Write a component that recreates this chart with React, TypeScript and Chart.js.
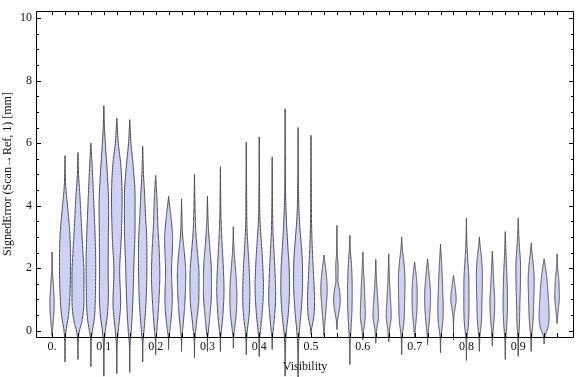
import React, { useEffect, useRef } from "react";
import { Chart, registerables } from "chart.js";

Chart.register(...registerables);

// ---- data ----
const VISIBILITY = [
  0, 0.025, 0.05, 0.075, 0.1, 0.125, 0.15, 0.175, 0.2, 0.225,
  0.25, 0.275, 0.3, 0.325, 0.35, 0.375, 0.4, 0.425, 0.45, 0.475,
  0.5, 0.525, 0.55, 0.575, 0.6, 0.625, 0.65, 0.675, 0.7, 0.725,
  0.75, 0.775, 0.8, 0.825, 0.85, 0.875, 0.9, 0.925, 0.95, 0.975,
];

const ERR_MIN = [
  -0.15, -1.0, -0.92, -1.15, -1.45, -1.37, -1.33, -1.0, -0.77, -0.6,
  -0.66, -0.86, -0.66, -0.66, -0.56, -0.77, -0.82, -0.6, -1.45, -1.5,
  -0.1, -0.15, 0.04, -1.08, -0.3, -0.4, -0.35, -0.77, -0.2, -0.45,
  -0.7, -0.3, -0.95, -0.66, -0.48, -0.92, -0.82, -0.66, -0.42, 0.23,
];

const ERR_MAX = [
  2.52, 5.6, 5.7, 6.0, 7.2, 6.8, 6.75, 5.9, 4.97, 4.3,
  4.22, 5.0, 4.3, 5.25, 3.33, 6.03, 6.2, 5.56, 7.1, 6.5,
  6.25, 2.42, 3.37, 3.05, 2.52, 2.28, 2.46, 3.0, 2.2, 2.3,
  2.77, 1.77, 3.6, 3.0, 2.55, 3.17, 3.6, 2.8, 2.3, 2.46,
];

// density knots per violin: [error value, relative density]
const DENSITY_KNOTS: number[][][] = [
  [[0.2, 1], [0.9, 2.2], [1.4, 1.4], [1.9, 0.4]],
  [[-0.3, 0.3], [0, 1], [0.5, 3.5], [1.2, 5], [2.2, 5.5], [3, 5], [4, 2.5], [4.5, 1], [5, 0.3]],
  [[-0.3, 0.3], [0, 1.5], [0.3, 4], [1.0, 6], [1.8, 6], [2.5, 5], [3.2, 3.8], [4.3, 2], [5.0, 0.6]],
  [[-0.3, 0.3], [0, 1.5], [0.4, 3.5], [1.2, 4.5], [2.2, 4.8], [3.2, 4], [4.3, 2.6], [5.3, 1.2]],
  [[-0.5, 0.3], [0, 1.5], [0.5, 3.5], [1.2, 4.5], [2, 4.3], [3, 4.5], [4, 4.8], [5, 3.5], [6, 1.5], [6.6, 0.5]],
  [[-0.5, 0.3], [0, 1.5], [0.9, 3.8], [1.9, 2.9], [3, 4.5], [4.2, 5.3], [5.3, 4], [6.0, 1.5]],
  [[-0.5, 0.3], [0, 1.5], [0.9, 3], [2.2, 4.2], [3.3, 5.3], [4.3, 5.3], [5.3, 3.3], [6.0, 1.2]],
  [[-0.4, 0.3], [0, 1.3], [0.9, 3.3], [2.2, 4.2], [3.0, 4], [3.7, 2.8], [4.3, 2], [5.0, 0.8]],
  [[-0.3, 0.3], [0, 1.2], [1.0, 3.3], [1.8, 4.2], [2.6, 3.5], [3.3, 2.3], [4.3, 1.2]],
  [[-0.2, 0.3], [0, 1.2], [1.0, 3.7], [1.9, 3], [2.9, 4], [3.6, 2.5], [4.0, 1]],
  [[-0.2, 0.3], [0, 1], [0.4, 2.2], [1.0, 3.5], [1.8, 4.2], [2.5, 2.8], [3.0, 1.2], [3.5, 0.5]],
  [[-0.3, 0.3], [0, 1.2], [0.4, 2.5], [1.0, 4.3], [1.8, 4.5], [2.6, 2.7], [3.2, 1.3], [4.0, 0.5]],
  [[-0.2, 0.3], [0, 1], [0.5, 2.5], [1.2, 4], [2.0, 3.8], [2.8, 2], [3.4, 0.8]],
  [[-0.2, 0.3], [0, 1], [0.5, 2.5], [1.3, 3.6], [2.0, 3], [2.7, 1.8], [3.5, 0.7], [4.3, 0.3]],
  [[-0.2, 0.3], [0, 1], [0.5, 2.8], [1.1, 3.5], [1.7, 2.8], [2.3, 1.3], [2.8, 0.4]],
  [[-0.3, 0.3], [0, 1], [0.5, 2.8], [1.2, 3.6], [1.9, 3], [2.6, 1.8], [3.3, 0.7], [4.5, 0.3]],
  [[-0.3, 0.3], [0, 1.2], [0.6, 3], [1.4, 4.2], [2.1, 3.5], [2.9, 2], [3.6, 0.7], [4.5, 0.3]],
  [[-0.2, 0.3], [0, 1], [0.5, 2.5], [1.1, 3.5], [1.7, 3], [2.4, 2], [3.2, 0.8], [4.2, 0.3]],
  [[-0.5, 0.3], [0, 1.3], [0.5, 3], [1.3, 4.3], [2.0, 4], [2.8, 2.5], [3.6, 1.2], [4.5, 0.4], [5.5, 0.2]],
  [[-0.6, 0.3], [0, 1.3], [0.6, 3], [1.5, 4.5], [2.2, 4.3], [2.9, 2.8], [3.6, 1.2], [4.5, 0.4]],
  [[0.1, 0.8], [0.5, 3], [1.0, 3.5], [1.8, 2.5], [2.6, 1.3], [3.5, 0.5], [4.5, 0.3]],
  [[0.2, 0.8], [0.8, 2.3], [1.35, 3.2], [1.9, 2]],
  [[0.3, 0.5], [0.7, 2.5], [0.95, 3.3], [1.3, 2.5], [1.6, 1], [2.0, 1.2], [2.5, 0.4]],
  [[-0.4, 0.3], [0, 1], [0.6, 2], [1.3, 2.3], [2.0, 1.8], [2.5, 0.7]],
  [[0, 0.8], [0.5, 2.5], [1.0, 2], [1.6, 1.3], [2.0, 0.6]],
  [[0, 0.8], [0.5, 2.8], [1.0, 2], [1.6, 0.8]],
  [[0, 0.8], [0.5, 2.5], [1.0, 1.8], [1.6, 0.8]],
  [[-0.2, 0.5], [0.3, 2.3], [1.0, 3], [1.6, 3.3], [2.2, 2.2], [2.6, 0.8]],
  [[0.1, 0.8], [0.6, 2.2], [1.2, 2.6], [1.7, 1.8]],
  [[-0.1, 0.5], [0.4, 2], [1.1, 3], [1.7, 1.8]],
  [[-0.2, 0.5], [0.3, 2.3], [0.7, 2.7], [1.3, 2.2], [2.0, 1.3]],
  [[0.4, 0.3], [0.7, 1.5], [1.0, 2.7], [1.3, 2]],
  [[-0.3, 0.4], [0.2, 2], [0.8, 2.6], [1.6, 2.5], [2.3, 1.3], [2.9, 0.4]],
  [[-0.2, 0.5], [0.3, 2], [1.0, 2.6], [1.7, 3], [2.3, 2.2], [2.7, 0.8]],
  [[0, 0.8], [0.5, 2], [0.9, 2.4], [1.5, 1.5], [2.0, 0.8]],
  [[-0.3, 0.4], [0.2, 1.5], [0.8, 2.2], [1.6, 1.8], [2.4, 0.8]],
  [[-0.3, 0.3], [0.2, 1.2], [0.8, 1.6], [1.5, 2.2], [2.1, 2.3], [2.7, 1.2], [3.2, 0.4]],
  [[-0.2, 0.5], [0.3, 1.8], [1.0, 2.6], [1.6, 3], [2.1, 2.2], [2.5, 0.8]],
  [[-0.15, 1], [0.1, 3.8], [0.5, 5], [1.0, 4.3], [1.6, 3], [2.0, 1.5]],
  [[0.6, 1], [1.1, 2.3], [1.6, 1.8], [2.0, 0.6]],
];

const X_TICKS = [0, 0.1, 0.2, 0.3, 0.4, 0.5, 0.6, 0.7, 0.8, 0.9];
const X_TICK_LABELS = ["0.", "0.1", "0.2", "0.3", "0.4", "0.5", "0.6", "0.7", "0.8", "0.9"];
const Y_TICKS = [0, 2, 4, 6, 8, 10];
const Y_TICK_LABELS = ["0", "2", "4", "6", "8", "10"];
const Y_MINOR_TICKS = [0.5, 1, 1.5, 2.5, 3, 3.5, 4.5, 5, 5.5, 6.5, 7, 7.5, 8.5, 9, 9.5];

const X_MIN = -0.031;
const X_MAX = 1.0077;
const Y_MIN = -0.2;
const Y_MAX = 10.22;
const DENSITY_UNIT = 0.00193; // x-units per density unit

const FONT = "'Liberation Serif', 'Times New Roman', serif";

function monotone(xs: number[], ys: number[]) {
  const n = xs.length;
  const d: number[] = [];
  const m: number[] = [];
  for (let i = 0; i < n - 1; i++) d[i] = (ys[i + 1] - ys[i]) / (xs[i + 1] - xs[i]);
  m[0] = d[0];
  m[n - 1] = d[n - 2];
  for (let i = 1; i < n - 1; i++) m[i] = d[i - 1] * d[i] <= 0 ? 0 : (d[i - 1] + d[i]) / 2;
  for (let i = 0; i < n - 1; i++) {
    if (d[i] === 0) { m[i] = 0; m[i + 1] = 0; continue; }
    const a = m[i] / d[i], b = m[i + 1] / d[i];
    const s = a * a + b * b;
    if (s > 9) { const t = 3 / Math.sqrt(s); m[i] = t * a * d[i]; m[i + 1] = t * b * d[i]; }
  }
  return (x: number) => {
    let i = 0;
    while (i < n - 2 && x > xs[i + 1]) i++;
    const h = xs[i + 1] - xs[i];
    const t = Math.min(1, Math.max(0, (x - xs[i]) / h));
    const t2 = t * t, t3 = t2 * t;
    const v = (2 * t3 - 3 * t2 + 1) * ys[i] + (t3 - 2 * t2 + t) * h * m[i] +
      (-2 * t3 + 3 * t2) * ys[i + 1] + (t3 - t2) * h * m[i + 1];
    return Math.max(0, v);
  };
}

const violinPlugin = {
  id: "violins",
  afterDatasetsDraw(chart: any) {
    const { ctx, scales } = chart;
    const xs = scales.x, ys = scales.y;
    ctx.save();
    VISIBILITY.forEach((c, i) => {
      const lo = ERR_MIN[i], hi = ERR_MAX[i];
      const kx = [lo, ...DENSITY_KNOTS[i].map((k) => k[0]), hi];
      const kv = [0, ...DENSITY_KNOTS[i].map((k) => k[1]), 0];
      const f = monotone(kx, kv);
      const N = 160;
      const pts: [number, number][] = [];
      for (let j = 0; j <= N; j++) {
        const y = lo + ((hi - lo) * j) / N;
        pts.push([y, f(y)]);
      }
      ctx.beginPath();
      pts.forEach(([y, w], j) => {
        const px = xs.getPixelForValue(c + w * DENSITY_UNIT);
        const py = ys.getPixelForValue(y);
        if (j === 0) ctx.moveTo(px, py); else ctx.lineTo(px, py);
      });
      for (let j = pts.length - 1; j >= 0; j--) {
        const [y, w] = pts[j];
        ctx.lineTo(xs.getPixelForValue(c - w * DENSITY_UNIT), ys.getPixelForValue(y));
      }
      ctx.closePath();
      ctx.fillStyle = "rgb(204,210,245)";
      ctx.fill();
      ctx.lineWidth = 1;
      ctx.strokeStyle = "rgb(72,72,82)";
      ctx.lineJoin = "round";
      ctx.stroke();
    });
    ctx.restore();
  },
  afterDraw(chart: any) {
    const { ctx, chartArea, scales } = chart;
    const { left, right, top, bottom } = chartArea;
    const xs = scales.x, ys = scales.y;
    ctx.save();
    ctx.strokeStyle = "#000";
    ctx.lineWidth = 1;
    ctx.beginPath();
    ctx.rect(Math.round(left) + 0.5, Math.round(top) + 0.5, Math.round(right - left) - 1, Math.round(bottom - top));
    ctx.stroke();
    ctx.beginPath();
    VISIBILITY.forEach((v) => {
      const x = Math.round(xs.getPixelForValue(v)) + 0.5;
      ctx.moveTo(x, bottom); ctx.lineTo(x, bottom - 4);
      ctx.moveTo(x, top); ctx.lineTo(x, top + 4);
    });
    Y_TICKS.forEach((v) => {
      const y = Math.round(ys.getPixelForValue(v)) + 0.5;
      ctx.moveTo(left, y); ctx.lineTo(left + 5, y);
      ctx.moveTo(right, y); ctx.lineTo(right - 5, y);
    });
    Y_MINOR_TICKS.forEach((v) => {
      const y = Math.round(ys.getPixelForValue(v)) + 0.5;
      ctx.moveTo(left, y); ctx.lineTo(left + 3, y);
      ctx.moveTo(right, y); ctx.lineTo(right - 3, y);
    });
    ctx.stroke();
    ctx.restore();
  },
};

export default function App() {
  const ref = useRef<HTMLCanvasElement | null>(null);
  useEffect(() => {
    if (!ref.current) return;
    const chart = new Chart(ref.current, {
      type: "scatter",
      data: { datasets: [{ data: [], pointRadius: 0 }] },
      options: {
        animation: false,
        responsive: false,
        devicePixelRatio: 1,
        layout: { padding: { top: 4, right: 2, left: 0, bottom: 0 } },
        plugins: { legend: { display: false }, tooltip: { enabled: false } },
        scales: {
          x: {
            type: "linear",
            min: X_MIN,
            max: X_MAX,
            afterFit: (s: any) => { s.height = 40; },
            afterBuildTicks: (s: any) => { s.ticks = X_TICKS.map((v) => ({ value: v })); },
            ticks: {
              callback: (_v: any, i: number) => X_TICK_LABELS[i],
              color: "#111",
              font: { family: FONT, size: 12 },
              padding: 3,
              autoSkip: false,
              maxRotation: 0,
            },
            grid: { display: false, drawTicks: false },
            border: { display: false },
            title: {
              display: true,
              text: "Visibility",
              color: "#111",
              font: { family: FONT, size: 12 },
              padding: { top: 0, bottom: 3 },
            },
          },
          y: {
            type: "linear",
            min: Y_MIN,
            max: Y_MAX,
            afterFit: (s: any) => { s.width = 36; },
            afterBuildTicks: (s: any) => { s.ticks = Y_TICKS.map((v) => ({ value: v })); },
            ticks: {
              callback: (_v: any, i: number) => Y_TICK_LABELS[i],
              color: "#111",
              font: { family: FONT, size: 12 },
              padding: 4,
            },
            grid: { display: false, drawTicks: false },
            border: { display: false },
            title: {
              display: true,
              text: "SignedError (Scan\u2192Ref, 1) [mm]",
              color: "#111",
              font: { family: FONT, size: 12 },
              padding: { top: 1, bottom: 0 },
            },
          },
        },
      } as any,
      plugins: [violinPlugin],
    });
    return () => chart.destroy();
  }, []);
  return (
    <div style={{ position: "fixed", left: 0, top: 0, width: 576, height: 377, background: "#fff" }}>
      <canvas ref={ref} width={576} height={377} />
    </div>
  );
}
